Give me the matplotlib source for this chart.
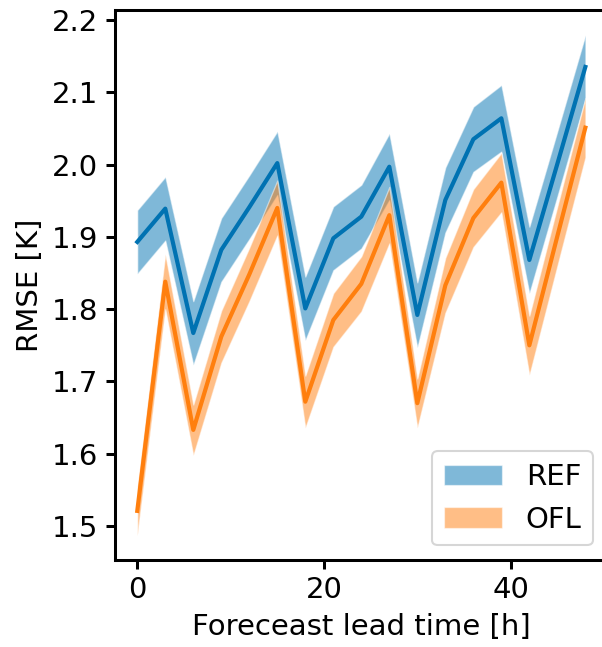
import matplotlib
matplotlib.use('Agg')
import matplotlib.pyplot as plt
import numpy as np

lead_time = np.arange(0, 49, 3)  # hours

ref_rmse = [1.893, 1.939, 1.767, 1.882, 1.941, 2.002, 1.801, 1.898, 1.928,
            1.997, 1.792, 1.951, 2.035, 2.064, 1.868, 2.001, 2.135]
ref_err = [0.044, 0.044, 0.044, 0.044, 0.044, 0.044, 0.044, 0.044, 0.044,
           0.046, 0.045, 0.045, 0.045, 0.046, 0.046, 0.045, 0.044]

ofl_rmse = [1.521, 1.838, 1.633, 1.762, 1.848, 1.940, 1.672, 1.785, 1.835,
            1.930, 1.670, 1.833, 1.926, 1.975, 1.750, 1.901, 2.051]
ofl_err = [0.034, 0.038, 0.035, 0.036, 0.037, 0.038, 0.036, 0.037, 0.038,
           0.039, 0.034, 0.038, 0.040, 0.041, 0.041, 0.041, 0.041]

labels = ['REF', 'OFL']

plt.rcParams['font.size'] = 14
plt.rcParams['axes.linewidth'] = 1.45
plt.rcParams['xtick.major.width'] = 1.45
plt.rcParams['ytick.major.width'] = 1.45
plt.rcParams['xtick.major.size'] = 4.4
plt.rcParams['ytick.major.size'] = 4.4

fig = plt.figure(figsize=(603 / 150, 647 / 150), dpi=150)
ax = fig.add_axes([0.1905, 0.1345, 0.8174, 0.8501])

colors = ['#0072b2', '#ff7f0e']
for rmse, err, col, name in zip([ref_rmse, ofl_rmse], [ref_err, ofl_err], colors, labels):
    rmse = np.array(rmse)
    err = np.array(err)
    ax.fill_between(lead_time, rmse - err, rmse + err, facecolor=col, alpha=0.5,
                    edgecolor=(1, 1, 1, 0.35), linewidth=0.6, label=name)
    ax.plot(lead_time, rmse, color=col, lw=2.0)

ax.set_xlim(-2.4, 50.4)
ax.set_ylim(1.4531, 2.2138)
ax.set_yticks([1.5, 1.6, 1.7, 1.8, 1.9, 2.0, 2.1, 2.2])
ax.set_xticks([0, 20, 40])
ax.set_xlabel('Foreceast lead time [h]')
ax.set_ylabel('RMSE [K]')
ax.legend(loc='lower right')

fig.savefig('out.png', dpi=150)
